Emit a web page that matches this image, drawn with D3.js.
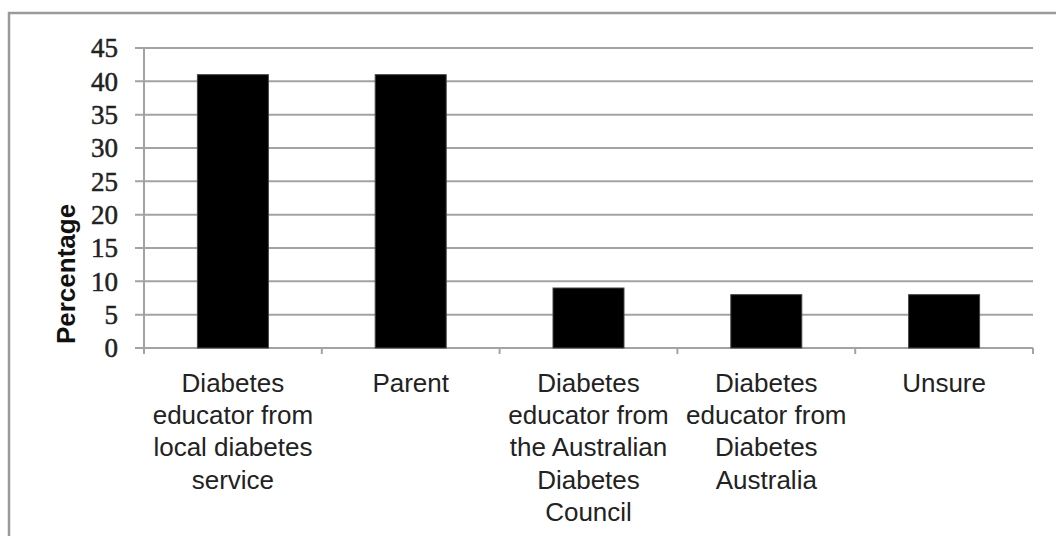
<!DOCTYPE html>
<html>
<head>
<meta charset="utf-8">
<script src="https://cdn.jsdelivr.net/npm/d3@7"></script>
<style>
  html, body { margin: 0; padding: 0; background: #fff; }
  svg { display: block; }
</style>
</head>
<body>
<svg id="chart" width="1056" height="536"></svg>
<script>
const categories = [
  ["Diabetes", "educator from", "local diabetes", "service"],
  ["Parent"],
  ["Diabetes", "educator from", "the Australian", "Diabetes", "Council"],
  ["Diabetes", "educator from", "Diabetes", "Australia"],
  ["Unsure"]
];
const categoryKeys = ["local", "parent", "adc", "da", "unsure"];
const values = [41, 41, 9, 8, 8];
const yTicks = [0, 5, 10, 15, 20, 25, 30, 35, 40, 45];
const yLabel = "Percentage";

const svg = d3.select("#chart");

// outer frame
svg.append("rect")
  .attr("x", 9).attr("y", 13)
  .attr("width", 1060).attr("height", 540)
  .attr("fill", "none").attr("stroke", "#9a9a9a").attr("stroke-width", 2.5);

const y = d3.scaleLinear().domain([0, 45]).range([348, 48]);
const xb = d3.scaleBand().domain(categoryKeys).range([144, 1033]).padding(0);

const grid = "#a3a3a3";

// gridlines
svg.append("g").selectAll("line").data(yTicks).join("line")
  .attr("x1", 135).attr("x2", 1033)
  .attr("y1", d => y(d)).attr("y2", d => y(d))
  .attr("stroke", grid).attr("stroke-width", 2);

// y axis line
svg.append("line")
  .attr("x1", 144).attr("x2", 144).attr("y1", y(45)).attr("y2", 354)
  .attr("stroke", grid).attr("stroke-width", 2);

// x-axis boundary ticks
const bounds = categoryKeys.map(k => xb(k)).concat([xb.range()[1]]);
svg.append("g").selectAll("line").data(bounds).join("line")
  .attr("x1", d => d).attr("x2", d => d)
  .attr("y1", y(0)).attr("y2", 354)
  .attr("stroke", grid).attr("stroke-width", 2);

// y tick labels
svg.append("g").selectAll("text").data(yTicks).join("text")
  .attr("x", 118).attr("y", d => y(d))
  .attr("dy", "0.34em")
  .attr("text-anchor", "end")
  .attr("font-family", "'Liberation Serif', 'DejaVu Serif', serif")
  .attr("font-size", 27)
  .attr("fill", "#222")
  .attr("stroke", "#222").attr("stroke-width", 0.5)
  .text(d => d);

// bars
const bw = 71;
svg.append("g").selectAll("rect").data(values).join("rect")
  .attr("x", (d, i) => xb(categoryKeys[i]) + xb.bandwidth() / 2 - bw / 2)
  .attr("width", bw)
  .attr("y", d => y(d))
  .attr("height", d => y(0) - y(d))
  .attr("fill", "#000")
  .attr("stroke", "#444").attr("stroke-width", 1);

// category labels
const lab = svg.append("g");
categories.forEach((lines, i) => {
  const t = lab.append("text")
    .attr("text-anchor", "middle")
    .attr("font-family", "'Liberation Sans', Arial, sans-serif")
    .attr("font-size", 26)
    .attr("fill", "#222");
  lines.forEach((ln, j) => {
    t.append("tspan")
      .attr("x", xb(categoryKeys[i]) + xb.bandwidth() / 2)
      .attr("y", 392 + j * 32.2)
      .text(ln);
  });
});

// y label
svg.append("text")
  .attr("transform", "translate(75,274) rotate(-90)")
  .attr("text-anchor", "middle")
  .attr("font-family", "'Liberation Sans', Arial, sans-serif")
  .attr("font-weight", "bold")
  .attr("font-size", 26)
  .attr("fill", "#111")
  .text(yLabel);
</script>
</body>
</html>
